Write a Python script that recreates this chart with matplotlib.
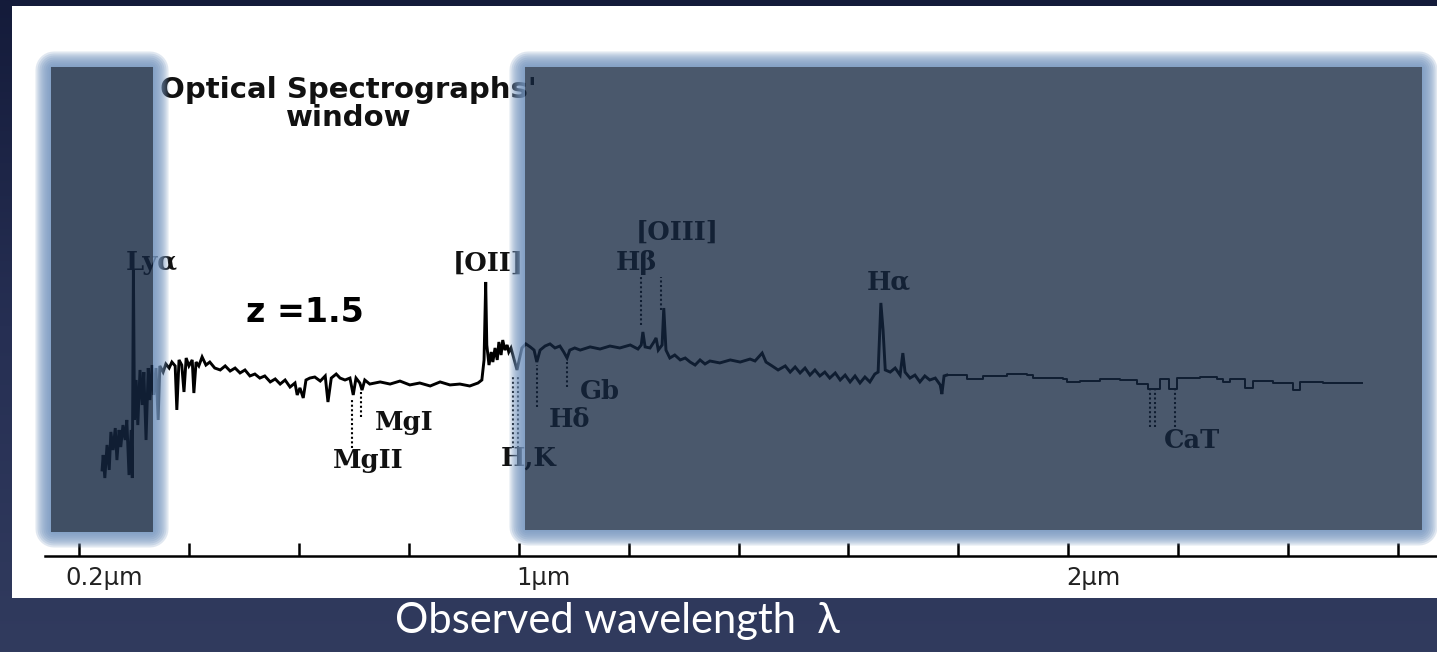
import numpy as np
import matplotlib
matplotlib.use("Agg")
import matplotlib.pyplot as plt
from matplotlib.path import Path
from matplotlib.patches import PathPatch, Rectangle
from matplotlib.colors import LinearSegmentedColormap
from matplotlib.transforms import ScaledTranslation

# ---------------- data (observed wavelength in micron, relative flux) ----------------
wl_opt = [0.242, 0.244, 0.247, 0.251, 0.255, 0.258, 0.262, 0.266, 0.269, 0.273,
          0.276, 0.280, 0.284, 0.287, 0.291, 0.295, 0.297, 0.299, 0.301, 0.304,
          0.307, 0.311, 0.315, 0.318, 0.322, 0.326, 0.329, 0.333, 0.336, 0.340,
          0.344, 0.347, 0.353, 0.358, 0.364, 0.369, 0.375, 0.378, 0.382, 0.387,
          0.391, 0.395, 0.400, 0.406, 0.409, 0.413, 0.418, 0.424, 0.431, 0.438,
          0.447, 0.457, 0.466, 0.475, 0.484, 0.493, 0.502, 0.511, 0.520, 0.529,
          0.538, 0.548, 0.557, 0.566, 0.575, 0.584, 0.593, 0.597, 0.602, 0.608,
          0.613, 0.620, 0.629, 0.639, 0.648, 0.653, 0.659, 0.668, 0.675, 0.684,
          0.693, 0.699, 0.704, 0.711, 0.715, 0.720, 0.729, 0.748, 0.766, 0.784,
          0.802, 0.820, 0.839, 0.857, 0.875, 0.893, 0.911, 0.926, 0.933, 0.937,
          0.940, 0.942, 0.946, 0.950, 0.953, 0.957, 0.961, 0.964, 0.968, 0.971,
          0.975, 0.979, 0.982, 0.986, 0.991, 0.997, 1.001, 1.006, 1.013, 1.021,
          1.028, 1.033, 1.039, 1.048, 1.057, 1.066, 1.075, 1.082, 1.088, 1.093,
          1.102, 1.112, 1.130, 1.148, 1.166, 1.184, 1.203, 1.217, 1.223, 1.226,
          1.230, 1.239, 1.246, 1.250, 1.254, 1.261, 1.264, 1.268, 1.275, 1.284,
          1.294, 1.303, 1.312, 1.321, 1.330, 1.339, 1.348, 1.366, 1.385, 1.403,
          1.421, 1.430, 1.443, 1.450, 1.461, 1.472, 1.485, 1.494, 1.503, 1.512,
          1.521, 1.530, 1.539, 1.548, 1.557, 1.566, 1.576, 1.585, 1.594, 1.603,
          1.612, 1.621, 1.630, 1.639, 1.648, 1.654, 1.657, 1.659, 1.663, 1.667,
          1.676, 1.685, 1.694, 1.699, 1.703, 1.712, 1.721, 1.730, 1.739, 1.748,
          1.758, 1.767, 1.770, 1.774, 1.779]
flux_opt = [0.489, 0.574, 0.443, 0.631, 0.489, 0.705, 0.602, 0.727, 0.545, 0.716,
            0.619, 0.744, 0.659, 0.773, 0.460, 0.716, 0.443, 1.625, 0.773, 1.000,
            0.744, 1.057, 0.858, 1.045, 0.659, 1.068, 0.886, 1.085, 0.915, 1.068,
            0.773, 1.080, 1.045, 1.091, 1.068, 1.102, 1.080, 0.830, 1.114, 1.085,
            0.932, 1.125, 1.080, 1.114, 0.926, 1.102, 1.080, 1.131, 1.085, 1.102,
            1.068, 1.057, 1.080, 1.051, 1.068, 1.040, 1.057, 1.023, 1.034, 1.011,
            1.023, 0.989, 1.006, 0.977, 1.000, 0.960, 0.983, 0.915, 0.955, 0.898,
            1.000, 1.011, 1.017, 0.994, 1.023, 0.875, 1.011, 1.034, 1.011, 1.000,
            1.011, 0.915, 1.011, 0.983, 0.943, 1.000, 0.977, 0.989, 0.977, 0.994,
            0.972, 0.983, 0.966, 0.989, 0.972, 0.977, 0.966, 0.983, 1.000, 1.114,
            1.557, 1.199, 1.085, 1.159, 1.102, 1.182, 1.114, 1.216, 1.142, 1.227,
            1.170, 1.199, 1.159, 1.182, 1.125, 1.057, 1.114, 1.182, 1.205, 1.188,
            1.170, 1.102, 1.170, 1.193, 1.205, 1.182, 1.193, 1.159, 1.125, 1.170,
            1.182, 1.170, 1.188, 1.176, 1.193, 1.182, 1.199, 1.176, 1.199, 1.273,
            1.188, 1.182, 1.216, 1.239, 1.170, 1.199, 1.409, 1.170, 1.125, 1.142,
            1.114, 1.125, 1.102, 1.085, 1.114, 1.091, 1.108, 1.097, 1.114, 1.102,
            1.119, 1.108, 1.153, 1.102, 1.080, 1.057, 1.080, 1.045, 1.074, 1.040,
            1.068, 1.028, 1.057, 1.023, 1.045, 1.011, 1.040, 1.000, 1.028, 0.989,
            1.023, 0.983, 1.017, 0.989, 1.034, 1.045, 1.284, 1.438, 1.284, 1.057,
            1.045, 1.068, 1.028, 1.153, 1.045, 1.011, 1.028, 0.989, 1.023, 1.000,
            1.011, 0.972, 0.920, 1.023, 1.028]

wl_nir = [1.779, 1.816, 1.845, 1.889, 1.925, 1.936, 1.990, 1.998, 2.021, 2.058,
          2.094, 2.125, 2.145, 2.167, 2.183, 2.198, 2.240, 2.271, 2.282, 2.294,
          2.322, 2.336, 2.372, 2.409, 2.422, 2.463, 2.534]
flux_nir = [1.028, 1.006, 1.023, 1.034, 1.028, 1.011, 1.006, 0.989, 0.994, 1.006,
            1.000, 0.977, 0.949, 1.006, 0.949, 1.011, 1.017, 1.006, 0.989, 1.006,
            0.955, 0.994, 0.983, 0.943, 0.989, 0.983, 0.983]

# absorption / emission feature markers (dotted)
mark_wl = [0.697, 0.713, 0.990, 0.999, 1.033, 1.088, 1.223, 1.259, 2.149, 2.158, 2.194]
mark_top = [0.886, 0.932, 1.017, 1.017, 1.085, 1.102, 1.585, 1.585, 0.943, 0.943, 0.943]
mark_bot = [0.614, 0.790, 0.614, 0.614, 0.847, 0.960, 1.313, 1.398, 0.733, 0.733, 0.733]

line_labels = ["Lyα", "[OII]", "[OIII]", "Hβ", "Hα", "MgI", "MgII", "H,K", "Hδ", "Gb", "CaT"]
label_wl = [0.333, 0.944, 1.289, 1.214, 1.673, 0.791, 0.727, 1.018, 1.093, 1.148, 2.226]
label_flux = [1.665, 1.665, 1.841, 1.670, 1.557, 0.756, 0.545, 0.557, 0.773, 0.932, 0.659]

major_ticks = [0.2, 1.0, 2.0]
tick_labels = ["0.2µm", "1µm", "2µm"]
minor_ticks = [0.4, 0.6, 0.8, 1.2, 1.4, 1.6, 1.8, 2.2, 2.4, 2.6]

# ---------------- figure ----------------
W, H = 1437, 652
fig = plt.figure(figsize=(W / 100, H / 100), dpi=100)

# slide background
bg = fig.add_axes([0, 0, 1, 1], zorder=-1)
bg.imshow(np.linspace(0, 1, 256).reshape(-1, 1), aspect="auto", extent=[0, 1, 0, 1],
          cmap=LinearSegmentedColormap.from_list("bg", ["#141b3a", "#262f53", "#313b5e"]))
bg.axis("off")

# chart panel (white)
ax = fig.add_axes([12 / W, 54 / H, (W - 12) / W, 592 / H], zorder=1)
ax.set_facecolor("white")
ax.set_xlim(0.0781, 2.6709)
ax.set_ylim(-0.2386, 3.125)
for s in ["top", "right", "left"]:
    ax.spines[s].set_visible(False)
ax.spines["bottom"].set_position(("data", 0))
ax.spines["bottom"].set_bounds(0.138, 2.6709)
ax.spines["bottom"].set_linewidth(1.8)
ax.set_yticks([])
ax.set_xticks(major_ticks, labels=tick_labels)
ax.set_xticks(minor_ticks, minor=True)
ax.tick_params(axis="x", which="both", direction="in", length=9.5, width=1.8, color="black")
ax.tick_params(axis="x", which="major", labelsize=17.5, pad=7, labelcolor="#222222")
for lab in ax.get_xticklabels():
    lab.set_fontfamily("DejaVu Sans")
    lab.set_transform(lab.get_transform() + ScaledTranslation(0.25, 0, fig.dpi_scale_trans))

# spectrum
ax.plot(wl_opt, flux_opt, color="black", lw=2.1, solid_joinstyle="miter")
ax.plot(wl_nir, flux_nir, color="black", lw=1.4, drawstyle="steps-post")
ax.vlines(mark_wl, mark_bot, mark_top, colors="black", lw=1.5, linestyles=(0, (1.0, 1.2)))

serif = dict(family="DejaVu Serif", weight="bold", fontsize=18.5, color="#111111",
             ha="center", va="center")
for t, x, y in zip(line_labels, label_wl, label_flux):
    ax.text(x, y, t, **serif)

ax.text(0.612, 1.381, "z =1.5", family="DejaVu Sans", weight="bold", fontsize=24,
        ha="center", va="center", color="black")
ax.text(0.690, 2.568, "Optical Spectrographs'\nwindow", family="DejaVu Sans",
        weight="bold", fontsize=21, ha="center", va="center", color="#111111",
        linespacing=1.0)

# ---------------- translucent overlays with glow (pixel coordinates) ----------------
ov = fig.add_axes([0, 0, 1, 1], zorder=2)
ov.set_xlim(0, W)
ov.set_ylim(H, 0)
ov.axis("off")
ov.patch.set_alpha(0)


def rrect(x0, y0, x1, y1, r):
    verts = []
    for cx, cy, a0 in [(x1 - r, y0 + r, -90), (x1 - r, y1 - r, 0),
                       (x0 + r, y1 - r, 90), (x0 + r, y0 + r, 180)]:
        t = np.radians(np.linspace(a0, a0 + 90, 10))
        verts += list(zip(cx + r * np.cos(t), cy + r * np.sin(t)))
    verts.append(verts[0])
    return np.array(verts)


def shade(x0, y0, x1, y1, alpha):
    inner = np.array([(x0, y0), (x1, y0), (x1, y1), (x0, y1), (x0, y0)], float)
    for d in [1.5, 3.5, 5.5, 7.5, 9.5, 11.5, 13.5, 15.5]:
        outer = rrect(x0 - d, y0 - d, x1 + d, y1 + d, d + 3)
        path = Path.make_compound_path(Path(outer, closed=True),
                                       Path(inner[::-1], closed=True))
        ov.add_patch(PathPatch(path, fc="#7495bf", ec="none", alpha=0.22))
    ov.add_patch(Rectangle((x0, y0), x1 - x0, y1 - y0, fc="#142640", ec="none", alpha=alpha))


shade(51, 67, 153, 532, 0.81)
shade(525, 67, 1422, 530, 0.77)

fig.text(617 / W, 1 - 621 / H, "Observed wavelength  λ", family=["Lato", "DejaVu Sans"],
         weight="normal", fontsize=30, color="white", ha="center", va="center", zorder=5)

fig.savefig("out.png", dpi=100)
